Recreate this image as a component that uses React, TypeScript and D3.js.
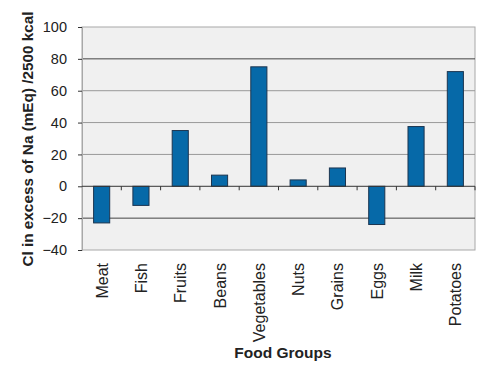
import React, { useEffect, useRef } from "react";
import * as d3 from "d3";

const categories = ["Meat", "Fish", "Fruits", "Beans", "Vegetables", "Nuts", "Grains", "Eggs", "Milk", "Potatoes"];
const values = [-23, -12, 35, 7, 75, 4, 11.5, -24, 37.5, 72];
const yTicks = [-40, -20, 0, 20, 40, 60, 80, 100];

const App = () => {
  const ref = useRef<SVGSVGElement>(null);

  useEffect(() => {
    const svg = d3.select(ref.current);
    svg.selectAll("*").remove();

    const left = 82, right = 475, top = 27, bottom = 250;
    const font = "Arial, 'Liberation Sans', sans-serif";

    const x = d3.scaleBand<string>().domain(categories).range([left, right]).paddingInner(0).paddingOuter(0);
    const y = d3.scaleLinear().domain([-40, 100]).range([bottom, top]);

    // plot background
    svg.append("rect")
      .attr("x", left).attr("y", top)
      .attr("width", right - left).attr("height", bottom - top)
      .attr("fill", "#f0f0f0").attr("stroke", "#a8a8a8");

    // gridlines
    svg.append("g").selectAll("line")
      .data(yTicks.filter((t) => t !== -40 && t !== 100 && t !== 0))
      .enter().append("line")
      .attr("x1", left).attr("x2", right)
      .attr("y1", (d) => y(d)).attr("y2", (d) => y(d))
      .attr("stroke", (d) => (d === 80 || d === -20 ? "#444" : "#999"))
      .attr("stroke-width", 1);

    // y axis
    const yAxis = svg.append("g")
      .attr("transform", `translate(${left},0)`)
      .call(d3.axisLeft(y).tickValues(yTicks).tickSize(4).tickPadding(11));
    yAxis.select(".domain").attr("stroke", "#a8a8a8");
    yAxis.selectAll(".tick line").attr("stroke", "#333");
    yAxis.selectAll(".tick text")
      .attr("font-family", font)
      .attr("font-size", 14.5).attr("fill", "#222");

    // bars
    const bw = x.bandwidth() * 0.41;
    svg.append("g").selectAll("rect")
      .data(categories)
      .enter().append("rect")
      .attr("x", (d) => (x(d) as number) + (x.bandwidth() - bw) / 2)
      .attr("y", (d, i) => y(Math.max(0, values[i])))
      .attr("width", bw)
      .attr("height", (d, i) => Math.abs(y(values[i]) - y(0)))
      .attr("fill", "#0669a8")
      .attr("stroke", "#1c3550")
      .attr("stroke-width", 1);

    // zero line
    svg.append("line")
      .attr("x1", left).attr("x2", right)
      .attr("y1", y(0)).attr("y2", y(0))
      .attr("stroke", "#333");

    // x ticks at band boundaries
    const bounds = categories.map((c) => x(c) as number).slice(1).concat([right]);
    svg.append("g").selectAll("line")
      .data(bounds)
      .enter().append("line")
      .attr("x1", (d) => d).attr("x2", (d) => d)
      .attr("y1", y(0)).attr("y2", y(0) + 4)
      .attr("stroke", "#333");

    // category labels
    svg.append("g").selectAll("text")
      .data(categories)
      .enter().append("text")
      .attr("transform", (d) => `translate(${(x(d) as number) + x.bandwidth() / 2 + 6},263) rotate(-90)`)
      .attr("text-anchor", "end")
      .attr("font-family", font)
      .attr("font-size", 16)
      .attr("fill", "#222")
      .text((d) => d);

    // axis titles
    svg.append("text")
      .attr("x", 283).attr("y", 358)
      .attr("text-anchor", "middle")
      .attr("font-family", font)
      .attr("font-size", 15.5).attr("font-weight", "bold")
      .attr("fill", "#222")
      .text("Food Groups");

    svg.append("text")
      .attr("transform", "translate(33,139) rotate(-90)")
      .attr("text-anchor", "middle")
      .attr("font-family", font)
      .attr("font-size", 15.3).attr("font-weight", "bold")
      .attr("fill", "#222")
      .text("Cl in excess of Na (mEq) /2500 kcal");
  }, []);

  return (
    <svg
      ref={ref}
      width={500}
      height={368}
      style={{ position: "absolute", left: 0, top: 0, background: "#fff" }}
    />
  );
};

export default App;
